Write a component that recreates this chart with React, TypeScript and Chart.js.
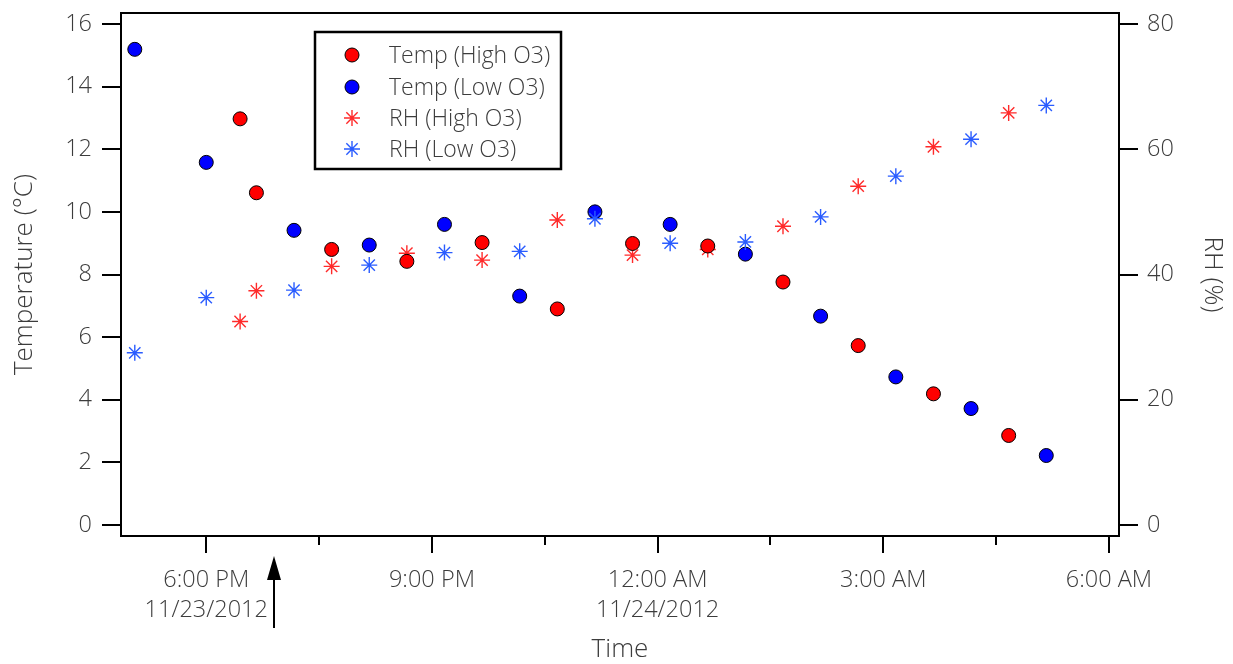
import { useEffect, useRef } from 'react';
import { Chart, registerables } from 'chart.js';
Chart.register(...registerables);

// Reference: 6:00 PM, 11/23/2012 = 0 h
const BASE_HOUR = 18;

const TIMES_HIGH = ['18:27', '18:40', '19:40', '20:40', '21:40', '22:40', '23:40', '00:40', '01:40', '02:40', '03:40', '04:40'];
const TEMP_HIGH = [12.97, 10.61, 8.8, 8.42, 9.02, 6.9, 8.99, 8.91, 7.76, 5.73, 4.19, 2.86];
const RH_HIGH = [32.5, 37.4, 41.3, 43.4, 42.3, 48.7, 43.1, 44.0, 47.7, 54.1, 60.4, 65.8];

const TIMES_LOW = ['17:03', '18:00', '19:10', '20:10', '21:10', '22:10', '23:10', '00:10', '01:10', '02:10', '03:10', '04:10', '05:10'];
const TEMP_LOW = [15.19, 11.58, 9.41, 8.94, 9.6, 7.31, 10.0, 9.6, 8.65, 6.67, 4.73, 3.72, 2.22];
const RH_LOW = [27.5, 36.3, 37.5, 41.5, 43.5, 43.7, 48.9, 45.0, 45.2, 49.2, 55.7, 61.6, 67.0];

const X_MIN = '16:52';
const X_MAX = '06:08';
const X_TICK_TIMES = ['18:00', '19:30', '21:00', '22:30', '00:00', '01:30', '03:00', '04:30', '06:00'];
const X_TICK_LABELS: (string | string[])[] = [
  ['6:00 PM', '11/23/2012'], '', '9:00 PM', '', ['12:00 AM', '11/24/2012'], '', '3:00 AM', '', '6:00 AM',
];
const TEMP_TICKS = [0, 2, 4, 6, 8, 10, 12, 14, 16];
const RH_TICKS = [0, 20, 40, 60, 80];
const TEMP_RANGE = [-0.35, 16.35];
const RH_RANGE = [-1.75, 81.75];
const ARROW_TIME = '18:54';

const LEGEND_LABELS = ['Temp (High O3)', 'Temp (Low O3)', 'RH (High O3)', 'RH (Low O3)'];

const FONT = '"Open Sans", "DejaVu Sans", sans-serif';
const TEXT = '#3c3c3c';

function toHours(t: string): number {
  const [h, m] = t.split(':').map(Number);
  let v = h + m / 60 - BASE_HOUR;
  if (v < -6) v += 24;
  return v;
}
const pts = (times: string[], vals: number[]) => times.map((t, i) => ({ x: toHours(t), y: vals[i] }));

const RED = '#ff0000';
const BLUE = '#0000ff';
const RED_STAR = '#ff2a2a';
const BLUE_STAR = '#2a5cff';

const framePlugin = {
  id: 'frame',
  afterDraw(chart: any) {
    const { ctx, chartArea, scales } = chart;
    ctx.save();
    // top frame line
    ctx.strokeStyle = '#000';
    ctx.lineWidth = 2;
    ctx.beginPath();
    ctx.moveTo(chartArea.left - 1, chartArea.top);
    ctx.lineTo(chartArea.right + 1, chartArea.top);
    ctx.stroke();
    // minor x ticks
    const xs = scales.x;
    xs.ticks.forEach((t: any, i: number) => {
      if (i % 2 === 1) {
        const px = Math.round(xs.getPixelForValue(t.value));
        ctx.beginPath();
        ctx.moveTo(px, chartArea.bottom);
        ctx.lineTo(px, chartArea.bottom + 9);
        ctx.stroke();
      }
    });
    // arrow
    const ax = Math.round(xs.getPixelForValue(toHours(ARROW_TIME)));
    const tipY = chartArea.bottom + 20;
    const tailY = chartArea.bottom + 92;
    ctx.lineWidth = 2;
    ctx.beginPath();
    ctx.moveTo(ax, tailY);
    ctx.lineTo(ax, tipY + 20);
    ctx.stroke();
    ctx.fillStyle = '#000';
    ctx.beginPath();
    ctx.moveTo(ax, tipY);
    ctx.lineTo(ax - 7, tipY + 24);
    ctx.lineTo(ax + 7, tipY + 24);
    ctx.closePath();
    ctx.fill();
    // legend
    const bx = 315, by = 32, bw = 246, bh = 137;
    ctx.lineWidth = 2.5;
    ctx.strokeStyle = '#000';
    ctx.fillStyle = '#fff';
    ctx.fillRect(bx, by, bw, bh);
    ctx.strokeRect(bx, by, bw, bh);
    const rows = [55, 87, 118, 149];
    const symX = 352;
    ctx.font = `300 23px ${FONT}`;
    ctx.textBaseline = 'middle';
    ctx.textAlign = 'left';
    chart.data.datasets.forEach((ds: any, r: number) => {
      const y = rows[r];
      if (ds.pointStyle === 'circle') {
        ctx.beginPath();
        ctx.arc(symX, y, ds.pointRadius, 0, Math.PI * 2);
        ctx.fillStyle = ds.backgroundColor;
        ctx.fill();
        ctx.lineWidth = ds.borderWidth;
        ctx.strokeStyle = ds.borderColor;
        ctx.stroke();
      } else {
        const rad = ds.pointRadius;
        ctx.lineWidth = ds.borderWidth;
        ctx.strokeStyle = ds.borderColor;
        ctx.beginPath();
        ctx.moveTo(symX - rad, y);
        ctx.lineTo(symX + rad, y);
        ctx.moveTo(symX, y - rad);
        ctx.lineTo(symX, y + rad);
        const d = rad * Math.SQRT1_2;
        ctx.moveTo(symX - d, y - d);
        ctx.lineTo(symX + d, y + d);
        ctx.moveTo(symX - d, y + d);
        ctx.lineTo(symX + d, y - d);
        ctx.stroke();
      }
      ctx.fillStyle = TEXT;
      ctx.fillText(LEGEND_LABELS[r], 389, y + 1);
    });
    ctx.restore();
  },
};

const noPad = (s: any) => {
  s.paddingTop = 0;
  s.paddingBottom = 0;
  s.paddingLeft = 0;
  s.paddingRight = 0;
};

export default function App() {
  const ref = useRef<HTMLCanvasElement>(null);
  useEffect(() => {
    if (!ref.current) return;
    const tickFont = { family: FONT, size: 23.5, weight: 300 as any, lineHeight: '30px' };
    const titleFont = { family: FONT, size: 26, weight: 300 as any, lineHeight: 1 };
    const chart = new Chart(ref.current, {
      type: 'scatter',
      data: {
        datasets: [
          { label: 'Temp (High O3)', data: pts(TIMES_HIGH, TEMP_HIGH), yAxisID: 'y', pointStyle: 'circle', pointRadius: 7, backgroundColor: RED, borderColor: '#000', borderWidth: 1, order: 3 },
          { label: 'Temp (Low O3)', data: pts(TIMES_LOW, TEMP_LOW), yAxisID: 'y', pointStyle: 'circle', pointRadius: 7, backgroundColor: BLUE, borderColor: '#000', borderWidth: 1, order: 2 },
          { label: 'RH (High O3)', data: pts(TIMES_HIGH, RH_HIGH), yAxisID: 'y2', pointStyle: 'star', pointRadius: 8, backgroundColor: RED_STAR, borderColor: RED_STAR, borderWidth: 1.4, order: 4 },
          { label: 'RH (Low O3)', data: pts(TIMES_LOW, RH_LOW), yAxisID: 'y2', pointStyle: 'star', pointRadius: 8, backgroundColor: BLUE_STAR, borderColor: BLUE_STAR, borderWidth: 1.4, order: 1 },
        ] as any,
      },
      options: {
        responsive: false,
        animation: false,
        layout: { padding: { top: 13, left: 0, right: 0, bottom: 0 } },
        plugins: { legend: { display: false }, tooltip: { enabled: false } },
        scales: {
          x: {
            type: 'linear',
            position: 'bottom',
            min: toHours(X_MIN),
            max: toHours(X_MAX),
            afterBuildTicks: (s: any) => { s.ticks = X_TICK_TIMES.map((t) => ({ value: toHours(t) })); },
            afterFit: (s: any) => { s.height = 128; noPad(s); },
            grid: {
              drawOnChartArea: false, drawTicks: true, tickLength: 17, lineWidth: 2,
              tickColor: (c: any) => (c.index % 2 === 1 ? 'rgba(0,0,0,0)' : '#000'),
            },
            border: { display: true, color: '#000', width: 2 },
            ticks: {
              autoSkip: false, maxRotation: 0, padding: 12, color: TEXT, font: tickFont,
              callback: (_v: any, i: number) => X_TICK_LABELS[i],
            },
            title: { display: true, text: 'Time', color: TEXT, font: titleFont, padding: { top: 0, bottom: 1 } },
          },
          y: {
            type: 'linear',
            position: 'left',
            min: TEMP_RANGE[0],
            max: TEMP_RANGE[1],
            afterBuildTicks: (s: any) => { s.ticks = TEMP_TICKS.map((v) => ({ value: v })); },
            afterFit: (s: any) => { s.width = 121; noPad(s); },
            grid: { drawOnChartArea: false, drawTicks: true, tickLength: 19, lineWidth: 2, tickColor: '#000' },
            border: { display: true, color: '#000', width: 2 },
            ticks: { padding: 10, color: TEXT, font: tickFont },
            title: { display: true, text: 'Temperature (°C)', color: TEXT, font: titleFont, padding: { top: 12, bottom: 0 } },
          },
          y2: {
            type: 'linear',
            position: 'right',
            min: RH_RANGE[0],
            max: RH_RANGE[1],
            afterBuildTicks: (s: any) => { s.ticks = RH_TICKS.map((v) => ({ value: v })); },
            afterFit: (s: any) => { s.width = 114; noPad(s); },
            grid: { drawOnChartArea: false, drawTicks: true, tickLength: 19, lineWidth: 2, tickColor: '#000' },
            border: { display: true, color: '#000', width: 2 },
            ticks: { padding: 9, color: TEXT, font: tickFont },
            title: { display: true, text: 'RH (%)', color: TEXT, font: titleFont, padding: { top: 8, bottom: 0 } },
          },
        },
      } as any,
      plugins: [framePlugin],
    });
    return () => chart.destroy();
  }, []);
  return (
    <div style={{ position: 'fixed', left: 0, top: 0, width: 1233, height: 664, background: '#fff' }}>
      <canvas ref={ref} width={1233} height={664} />
    </div>
  );
}
